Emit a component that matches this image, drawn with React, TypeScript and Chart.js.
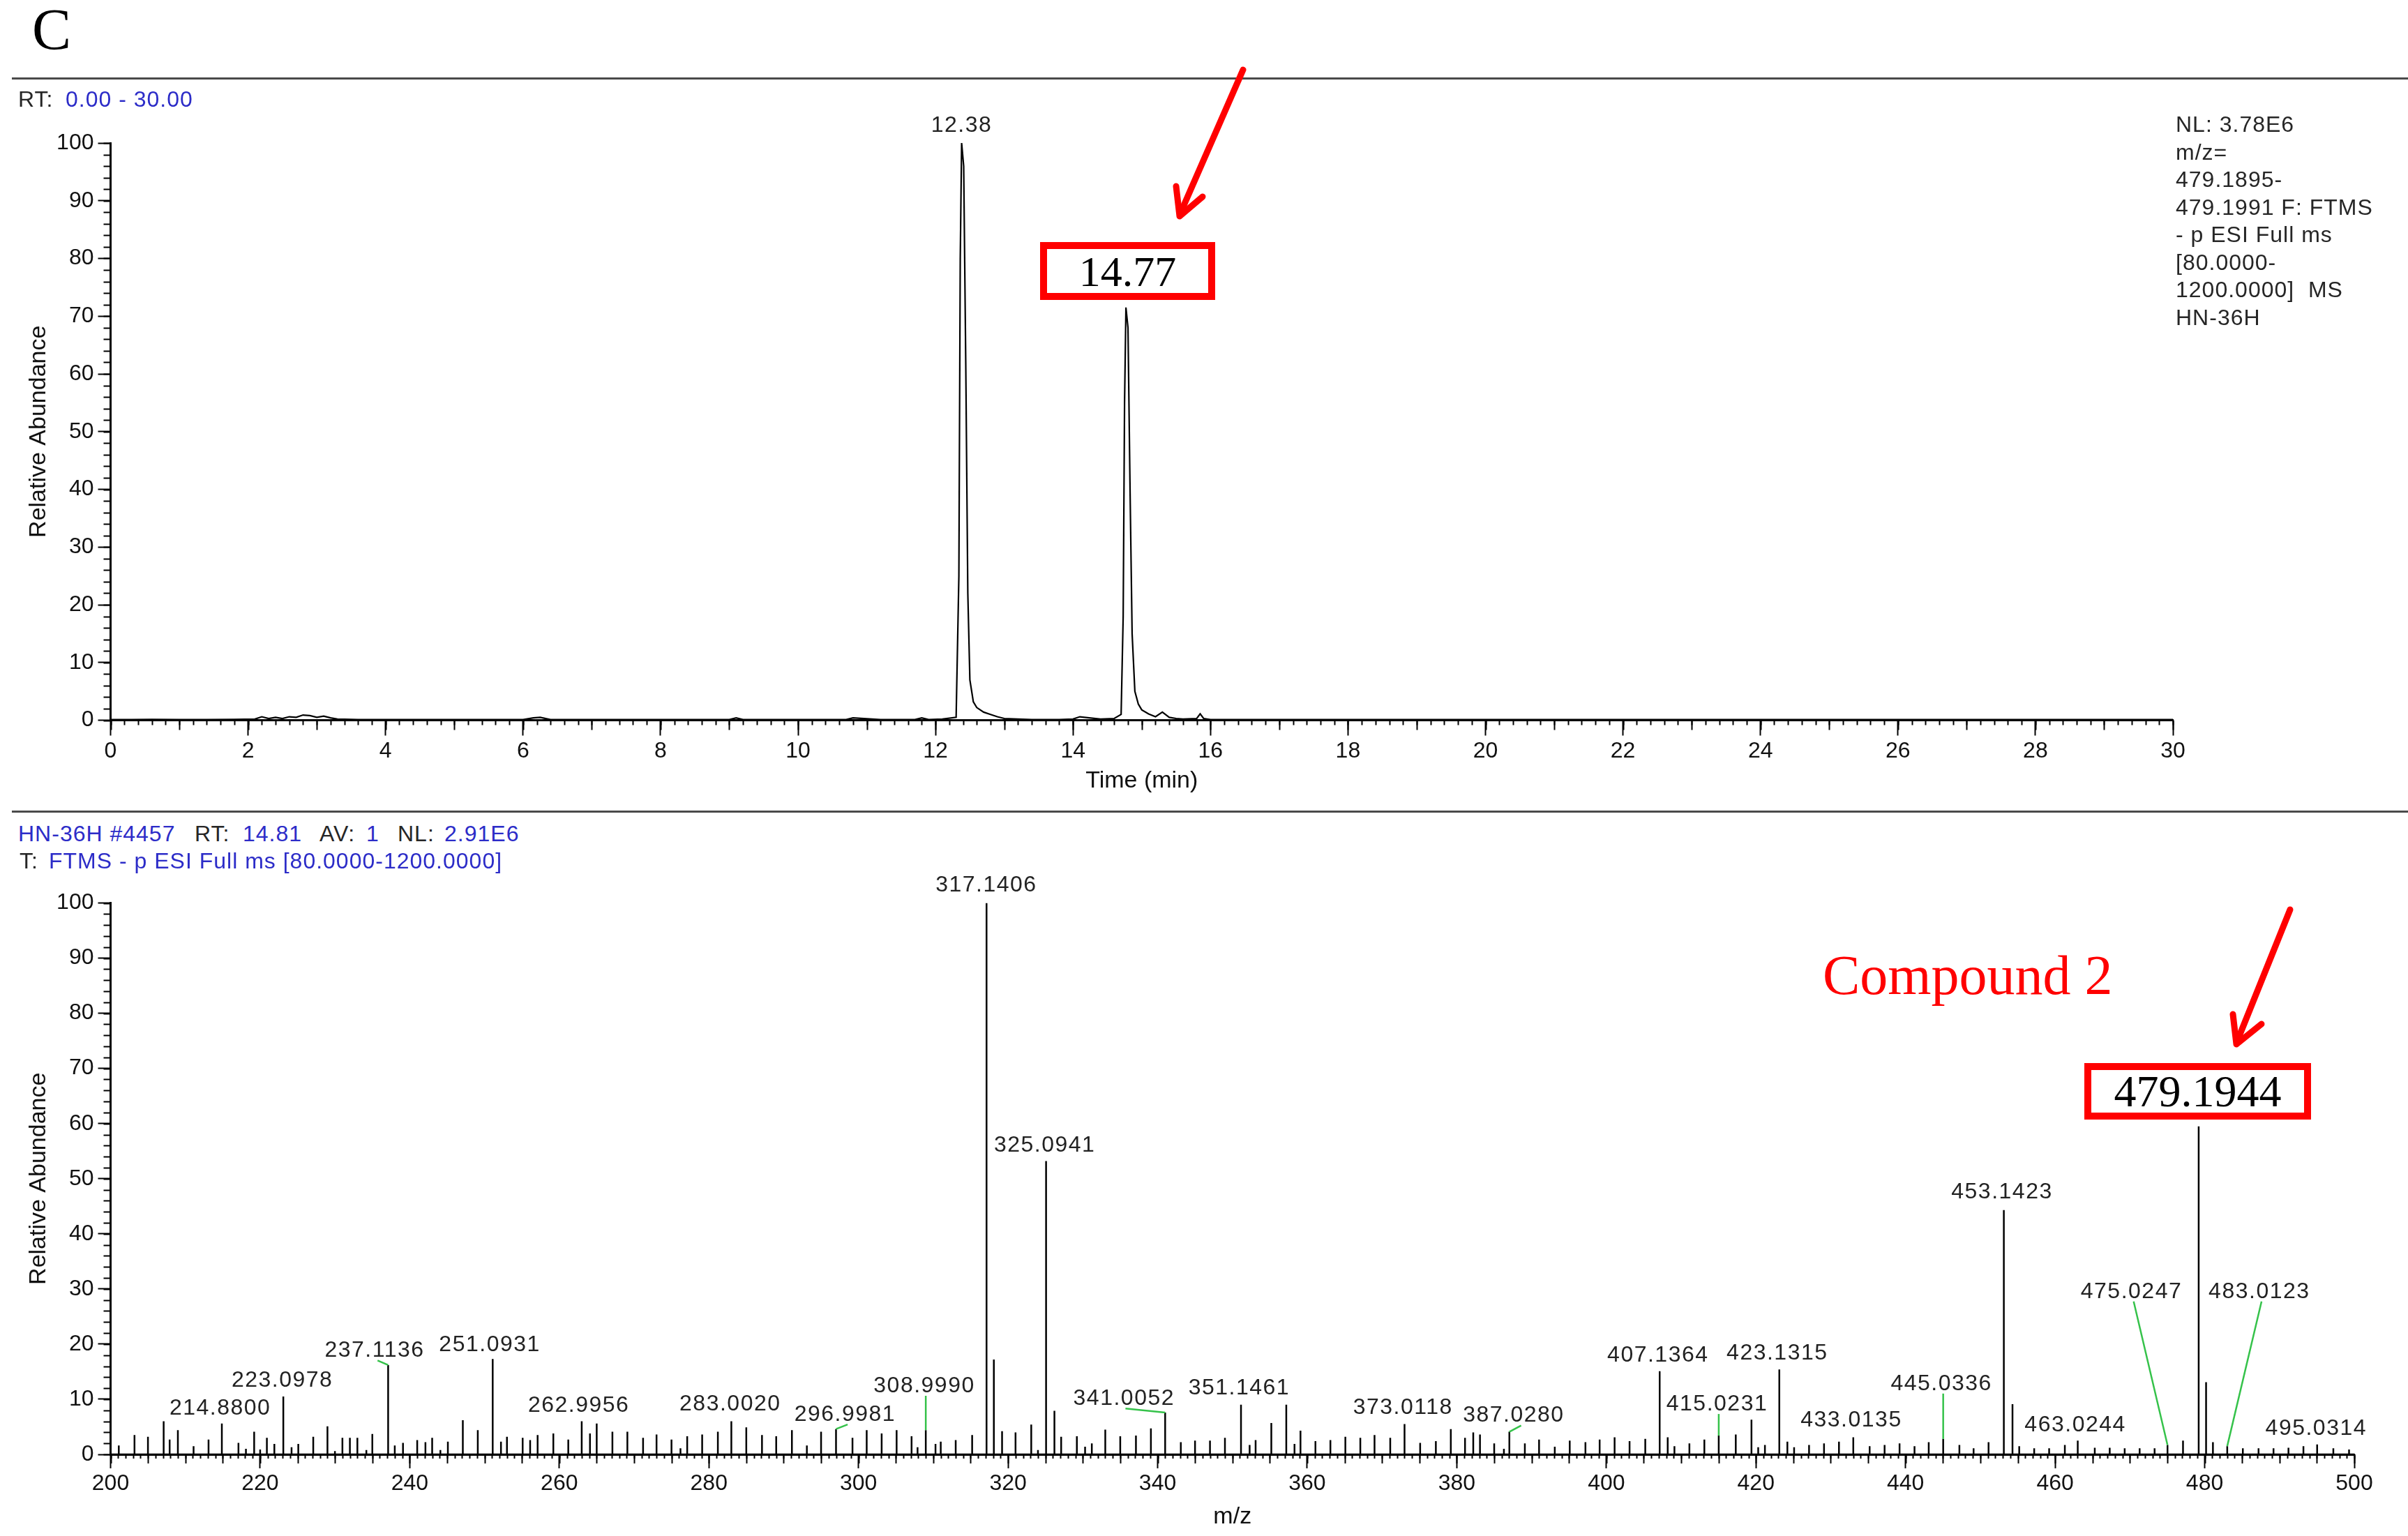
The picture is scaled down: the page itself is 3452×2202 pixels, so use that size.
import React, { useEffect, useRef } from 'react';
import { Chart, registerables } from 'chart.js';

Chart.register(...registerables);

// ---------------- DATA ----------------
// Chromatogram (top): retention time (min) and relative abundance (%)
const rtTime = [0, 0.3, 0.6, 1.0, 1.4, 1.8, 2.1, 2.2, 2.3, 2.4, 2.5, 2.6, 2.7, 2.8, 2.9, 3.0, 3.1, 3.2, 3.3, 3.6, 4.0, 4.5, 5.0, 5.5, 6.0, 6.15, 6.25, 6.4, 7.0, 7.5, 8.0, 8.5, 9.0, 9.1, 9.2, 9.6, 10.0, 10.5, 10.7, 10.8, 11.2, 11.7, 11.8, 11.9, 12.1, 12.3, 12.34, 12.36, 12.38, 12.41, 12.44, 12.47, 12.5, 12.55, 12.6, 12.7, 12.8, 12.9, 13.0, 13.4, 13.8, 14.0, 14.1, 14.4, 14.6, 14.7, 14.73, 14.75, 14.77, 14.8, 14.83, 14.86, 14.9, 14.95, 15.0, 15.1, 15.2, 15.3, 15.4, 15.5, 15.6, 15.8, 15.85, 15.9, 16.0, 16.5, 17, 18, 19, 20, 21, 22, 23, 24, 25, 26, 27, 28, 29, 30];
const rtAbund = [0.1, 0.1, 0.15, 0.1, 0.1, 0.15, 0.2, 0.6, 0.3, 0.5, 0.3, 0.6, 0.5, 0.9, 0.8, 0.5, 0.7, 0.4, 0.2, 0.1, 0.1, 0.1, 0.1, 0.1, 0.1, 0.4, 0.5, 0.1, 0.1, 0.1, 0.1, 0.1, 0.1, 0.4, 0.1, 0.1, 0.1, 0.1, 0.1, 0.4, 0.1, 0.1, 0.4, 0.1, 0.2, 0.5, 25, 80, 100, 96, 62, 22, 7, 3.2, 2.2, 1.4, 1.0, 0.6, 0.3, 0.1, 0.1, 0.2, 0.6, 0.2, 0.3, 1.0, 18, 55, 71.5, 68, 40, 15, 5, 2.8, 1.8, 1.1, 0.6, 1.4, 0.5, 0.3, 0.2, 0.3, 1.1, 0.3, 0.1, 0.1, 0.1, 0.1, 0.1, 0.1, 0.1, 0.1, 0.1, 0.1, 0.1, 0.1, 0.1, 0.1, 0.1, 0.1];
const rtPeakLabels = ['12.38'];
const rtPeakLabelTime = [12.38];
const rtPeakLabelLevel = [103.0];

// Mass spectrum (bottom): m/z and relative abundance (%)
const specMz = [201.1, 203.2, 205.0, 207.1, 207.9, 209.0, 211.1, 213.1, 214.88, 217.1, 218.1, 219.2, 220.0, 220.9, 221.9, 223.0978, 224.2, 225.1, 227.1, 229.0, 230.0, 231.0, 232.0, 233.0, 234.2, 235.0, 237.1136, 238.0, 239.1, 241.0, 242.1, 243.0, 244.1, 245.1, 247.1, 249.1, 251.0931, 252.2, 253.0, 255.1, 256.1, 257.1, 259.2, 261.2, 262.9956, 264.1, 265.0, 267.1, 269.1, 271.2, 273.0, 275.0, 276.2, 277.1, 279.1, 281.2, 283.002, 285.0, 287.1, 289.0, 291.1, 293.1, 295.0, 296.9981, 299.2, 301.1, 303.1, 305.1, 307.1, 307.9, 308.999, 310.3, 311.0, 313.0, 315.2, 317.1, 317.1406, 318.1, 319.2, 321.0, 323.1, 324.0, 325.07, 325.0941, 326.2, 327.1, 329.2, 330.3, 331.2, 333.0, 335.0, 337.1, 339.1, 341.0052, 343.1, 345.0, 347.0, 349.0, 351.1461, 352.3, 353.1, 355.2, 357.2, 358.3, 359.1, 361.1, 363.1, 365.1, 367.1, 369.0, 371.1, 373.0118, 375.1, 377.2, 379.2, 381.1, 382.2, 383.1, 385.0, 386.3, 387.028, 389.1, 391.0, 393.1, 395.1, 397.2, 399.1, 401.1, 403.1, 405.2, 407.11, 407.1364, 408.2, 409.1, 411.1, 413.1, 415.0231, 417.3, 419.4, 420.3, 421.2, 423.11, 423.1315, 424.2, 425.1, 427.1, 429.1, 431.1, 433.0135, 435.2, 437.2, 439.2, 441.2, 443.1, 445.0336, 447.2, 449.1, 451.1, 453.1423, 454.3, 455.2, 457.2, 459.2, 461.3, 463.0244, 465.3, 467.3, 469.3, 471.3, 473.3, 475.0247, 477.1, 479.1944, 480.16, 480.2, 481.1, 483.0123, 485.1, 487.2, 489.2, 491.2, 493.2, 495.0314, 497.2, 499.3];
const specInt = [1.6, 3.5, 3.2, 6.0, 2.7, 4.4, 1.5, 2.7, 5.6, 2.1, 1.0, 4.1, 0.9, 3.0, 1.9, 10.5, 1.3, 1.9, 3.2, 5.1, 0.6, 3.0, 3.0, 3.0, 0.8, 3.7, 16.2, 1.6, 2.1, 2.6, 2.2, 3.0, 0.8, 2.3, 6.2, 4.4, 17.3, 2.3, 3.2, 3.0, 2.6, 3.5, 3.8, 2.7, 6.0, 3.8, 5.6, 4.1, 4.1, 3.0, 3.6, 2.7, 1.1, 3.3, 3.6, 4.1, 6.0, 4.9, 3.5, 3.3, 4.4, 1.6, 4.1, 4.6, 3.0, 4.4, 3.8, 4.4, 3.3, 1.3, 4.4, 1.9, 2.3, 2.6, 3.5, 50.5, 100, 17.2, 4.2, 4.0, 5.4, 0.8, 49.4, 53.2, 7.9, 3.2, 3.3, 1.4, 2.0, 4.5, 3.3, 3.4, 4.7, 7.6, 2.2, 2.5, 2.5, 3.0, 9.0, 1.7, 2.6, 5.7, 9.0, 1.9, 4.3, 2.4, 2.6, 3.2, 3.0, 3.5, 3.0, 5.5, 2.1, 2.4, 4.6, 3.0, 4.0, 3.6, 2.0, 1.0, 4.1, 2.0, 2.7, 1.4, 2.5, 2.2, 2.7, 3.1, 2.4, 2.8, 4.9, 15.1, 3.1, 1.5, 2.0, 2.7, 3.4, 3.6, 6.3, 1.3, 1.7, 4.2, 15.4, 2.3, 1.3, 1.7, 2.0, 2.3, 3.1, 1.5, 1.7, 2.0, 1.5, 2.2, 2.8, 1.7, 1.1, 2.2, 44.3, 9.1, 1.5, 1.1, 1.1, 1.7, 2.5, 1.2, 1.2, 1.1, 1.1, 1.1, 1.7, 2.5, 59.5, 8.7, 13.1, 2.2, 1.5, 1.1, 1.1, 1.1, 1.2, 1.5, 1.8, 1.1, 0.9];

// Labelled spectrum peaks
const labelMz = [214.8800, 223.0978, 237.1136, 251.0931, 262.9956, 283.0020, 296.9981, 308.9990, 317.1406, 325.0941, 341.0052, 351.1461, 373.0118, 387.0280, 407.1364, 415.0231, 423.1315, 433.0135, 445.0336, 453.1423, 463.0244, 475.0247, 483.0123, 495.0314];
const labelAtMz = [214.66, 222.96, 235.3, 250.7, 262.6, 282.85, 298.2, 308.8, 317.09, 324.9, 335.5, 350.9, 372.8, 387.6, 406.9, 414.8, 422.85, 432.75, 444.8, 452.9, 462.7, 470.2, 487.3, 494.9];
const labelAtLevel = [8.35, 13.4, 18.8, 19.9, 8.8, 9.1, 7.2, 12.4, 103.2, 56.0, 10.1, 12.0, 8.5, 7.0, 18.0, 9.1, 18.3, 6.2, 12.8, 47.5, 5.3, 29.5, 29.5, 4.7];
const leaderFromMz = [null, null, 235.7, null, null, null, 298.55, 308.999, null, null, 335.7, null, null, 388.6, null, 415.0231, null, null, 445.0336, null, null, 470.5, 487.6, null];

const noteLines = ['NL: 3.78E6', 'm/z=', '479.1895-', '479.1991 F: FTMS', '- p ESI Full ms', '[80.0000-', '1200.0000]  MS', 'HN-36H'];

// ---------------- STYLE CONSTANTS ----------------
const SANS = '"Liberation Sans", Arial, sans-serif';
const SERIF = '"Liberation Serif", "Times New Roman", serif';
const BLUE = '#2c2cc8';
const DARK = '#262626';

// ---------------- PLUGINS ----------------
const minorTickPlugin = {
  id: 'minorTicks',
  afterDraw(chart: any, _args: any, opts: any) {
    const { ctx, chartArea } = chart;
    ctx.save();
    ctx.strokeStyle = '#000';
    ctx.lineWidth = 2;
    const xs = chart.scales.x;
    const ys = chart.scales.y;
    (opts.x || []).forEach((t: any) => {
      const n = Math.round((xs.max - xs.min) / t.step);
      for (let i = 0; i <= n; i++) {
        const px = Math.round(xs.getPixelForValue(xs.min + i * t.step)) + 0.5;
        ctx.beginPath();
        ctx.moveTo(px, chartArea.bottom);
        ctx.lineTo(px, chartArea.bottom + t.len);
        ctx.stroke();
      }
    });
    (opts.y || []).forEach((t: any) => {
      const n = Math.round((ys.max - ys.min) / t.step);
      for (let i = 0; i <= n; i++) {
        const py = Math.round(ys.getPixelForValue(ys.min + i * t.step)) + 0.5;
        ctx.beginPath();
        ctx.moveTo(chartArea.left, py);
        ctx.lineTo(chartArea.left - t.len, py);
        ctx.stroke();
      }
    });
    ctx.restore();
  },
};

const peakLabelPlugin = {
  id: 'peakLabels',
  afterDatasetsDraw(chart: any, _args: any, opts: any) {
    const items = opts.items || [];
    const { ctx } = chart;
    const xs = chart.scales.x;
    const ys = chart.scales.y;
    ctx.save();
    ctx.font = opts.font;
    ctx.textAlign = 'center';
    ctx.textBaseline = 'middle';
    try { (ctx as any).letterSpacing = opts.letterSpacing || '0px'; } catch (e) { /* ignore */ }
    for (const it of items) {
      const lx = xs.getPixelForValue(it.lx);
      const ly = ys.getPixelForValue(it.ly);
      if (it.leadX != null) {
        ctx.strokeStyle = opts.leaderColor;
        ctx.lineWidth = 2.5;
        ctx.beginPath();
        ctx.moveTo(xs.getPixelForValue(it.leadX), ly + opts.leaderGap);
        ctx.lineTo(xs.getPixelForValue(it.px), ys.getPixelForValue(it.py));
        ctx.stroke();
      }
      ctx.fillStyle = opts.color;
      ctx.fillText(it.text, lx, ly);
    }
    ctx.restore();
  },
};

// ---------------- CHART BUILDERS ----------------
function axisCommon(tickLen: number, pad: number) {
  return {
    border: { display: true, color: '#000', width: 3 },
    grid: { display: true, drawOnChartArea: false, drawTicks: true, tickLength: tickLen, tickWidth: 2, tickColor: '#000', color: '#000' },
    ticks: { color: '#111', padding: pad, autoSkip: false, maxRotation: 0, font: { family: SANS, size: 32 } },
  };
}

function buildTopConfig() {
  const pts = rtTime.map((t, i) => ({ x: t, y: rtAbund[i] }));
  const labels = rtPeakLabels.map((txt, i) => {
    const idx = rtTime.indexOf(rtPeakLabelTime[i]);
    return { text: txt, lx: rtPeakLabelTime[i], ly: rtPeakLabelLevel[i], px: rtPeakLabelTime[i], py: rtAbund[idx], leadX: null };
  });
  const xc = axisCommon(22, 3);
  const yc = axisCommon(18, 6);
  return {
    type: 'line',
    data: { datasets: [{ data: pts, borderColor: '#000', borderWidth: 2.2, pointRadius: 0, tension: 0, fill: false }] },
    options: {
      animation: false,
      responsive: false,
      maintainAspectRatio: false,
      events: [],
      layout: { padding: { left: 0, right: 337, top: 55, bottom: 7.5 } },
      plugins: {
        legend: { display: false },
        tooltip: { enabled: false },
        minorTicks: { x: [{ step: 1, len: 14 }, { step: 0.2, len: 7 }], y: [{ step: 2, len: 10 }] },
        peakLabels: { items: labels, font: `32px ${SANS}`, color: '#222', letterSpacing: '1.5px', leaderColor: '#35c24a', leaderGap: 14 },
      },
      scales: {
        x: {
          type: 'linear', min: 0, max: 30,
          ...xc,
          ticks: { ...xc.ticks, stepSize: 2 },
          title: { display: true, text: 'Time (min)', color: '#111', font: { family: SANS, size: 34 }, padding: { top: 0, bottom: 12 } },
          afterFit: (s: any) => { s.height = 120; },
        },
        y: {
          type: 'linear', min: 0, max: 100,
          ...yc,
          ticks: { ...yc.ticks, stepSize: 10 },
          title: { display: true, text: 'Relative Abundance', color: '#111', font: { family: SANS, size: 34 }, padding: { top: 35, bottom: 0 } },
          afterFit: (s: any) => { s.width = 158.5; },
        },
      },
    },
    plugins: [minorTickPlugin, peakLabelPlugin],
  };
}

function buildBottomConfig() {
  const pts: any[] = [{ x: 200, y: 0 }];
  specMz.forEach((m, i) => {
    pts.push({ x: m, y: 0 }, { x: m, y: specInt[i] }, { x: m, y: 0 });
  });
  pts.push({ x: 500, y: 0 });
  const labels = labelMz.map((m, i) => {
    const idx = specMz.indexOf(Number(m.toFixed(4)));
    const h = idx >= 0 ? specInt[idx] : 0;
    return { text: m.toFixed(4), lx: labelAtMz[i], ly: labelAtLevel[i], px: m, py: h, leadX: leaderFromMz[i] };
  });
  const xc = axisCommon(20, 3);
  const yc = axisCommon(18, 6);
  return {
    type: 'line',
    data: { datasets: [{ data: pts, borderColor: '#000', borderWidth: 2.5, pointRadius: 0, tension: 0, fill: false }] },
    options: {
      animation: false,
      responsive: false,
      maintainAspectRatio: false,
      events: [],
      layout: { padding: { left: 0, right: 77, top: 44.5, bottom: 4 } },
      plugins: {
        legend: { display: false },
        tooltip: { enabled: false },
        minorTicks: { x: [{ step: 5, len: 13 }, { step: 1, len: 6 }], y: [{ step: 2, len: 10 }] },
        peakLabels: { items: labels, font: `32px ${SANS}`, color: '#222', letterSpacing: '1.5px', leaderColor: '#35c24a', leaderGap: 14 },
      },
      scales: {
        x: {
          type: 'linear', min: 200, max: 500,
          ...xc,
          ticks: { ...xc.ticks, stepSize: 20 },
          title: { display: true, text: 'm/z', color: '#111', font: { family: SANS, size: 34 }, padding: { top: 0, bottom: 2.6 } },
          afterFit: (s: any) => { s.height = 113; },
        },
        y: {
          type: 'linear', min: 0, max: 100,
          ...yc,
          ticks: { ...yc.ticks, stepSize: 10 },
          title: { display: true, text: 'Relative Abundance', color: '#111', font: { family: SANS, size: 34 }, padding: { top: 35, bottom: 0 } },
          afterFit: (s: any) => { s.width = 158.5; },
        },
      },
    },
    plugins: [minorTickPlugin, peakLabelPlugin],
  };
}

function ChartCanvas({ build, top, height }: { build: () => any; top: number; height: number }) {
  const ref = useRef<HTMLCanvasElement | null>(null);
  useEffect(() => {
    if (!ref.current) return;
    const chart = new Chart(ref.current, build());
    return () => chart.destroy();
  }, []);
  return (
    <canvas
      ref={ref}
      width={3452}
      height={height}
      style={{ position: 'absolute', left: 0, top, width: 3452, height, display: 'block' }}
    />
  );
}

function Txt({ x, cy, size, color, children, family, spacing }: any) {
  return (
    <div
      style={{
        position: 'absolute', left: x, top: cy - size / 2, fontSize: size, lineHeight: `${size}px`,
        color, fontFamily: family || SANS, whiteSpace: 'pre', letterSpacing: spacing ?? 1,
      }}
    >
      {children}
    </div>
  );
}

function RedBox({ left, top, width, height, text, size }: any) {
  return (
    <div
      style={{
        position: 'absolute', left, top, width, height, boxSizing: 'border-box', border: '10px solid #ff0000',
        background: '#fff', display: 'flex', alignItems: 'center', justifyContent: 'center',
        fontFamily: SERIF, fontSize: size, color: '#000', lineHeight: 1,
      }}
    >
      {text}
    </div>
  );
}

export default function App() {
  return (
    <div style={{ position: 'absolute', left: 0, top: 0, width: 3452, height: 2202, background: '#fff', overflow: 'hidden' }}>
      <ChartCanvas build={buildTopConfig} top={150} height={1010} />
      <ChartCanvas build={buildBottomConfig} top={1250} height={952} />

      {/* Panel letter */}
      <div style={{ position: 'absolute', left: 46, top: 1, fontFamily: SERIF, fontSize: 84, lineHeight: '84px', color: '#000' }}>C</div>

      {/* separators */}
      <div style={{ position: 'absolute', left: 17, top: 111, width: 3435, height: 3, background: '#4a4a4a' }} />
      <div style={{ position: 'absolute', left: 17, top: 1162, width: 3435, height: 3, background: '#4a4a4a' }} />

      {/* top header */}
      <Txt x={26} cy={142} size={32} color={DARK}>RT:</Txt>
      <Txt x={94} cy={142} size={32} color={BLUE}>0.00 - 30.00</Txt>

      {/* top right note */}
      {noteLines.map((l, i) => (
        <Txt key={i} x={3119} cy={178 + i * 39.5} size={32} color={DARK}>{l}</Txt>
      ))}

      {/* bottom header */}
      <Txt x={26} cy={1195} size={32} color={BLUE}>HN-36H #4457</Txt>
      <Txt x={279} cy={1195} size={32} color={DARK}>RT:</Txt>
      <Txt x={348} cy={1195} size={32} color={BLUE}>14.81</Txt>
      <Txt x={458} cy={1195} size={32} color={DARK}>AV:</Txt>
      <Txt x={525} cy={1195} size={32} color={BLUE}>1</Txt>
      <Txt x={570} cy={1195} size={32} color={DARK}>NL:</Txt>
      <Txt x={637} cy={1195} size={32} color={BLUE}>2.91E6</Txt>
      <Txt x={28} cy={1234} size={32} color={DARK}>T:</Txt>
      <Txt x={70} cy={1234} size={32} color={BLUE}>FTMS - p ESI Full ms [80.0000-1200.0000]</Txt>

      {/* red annotations */}
      <RedBox left={1491} top={347} width={251} height={83} text="14.77" size={62} />
      <RedBox left={2988} top={1524} width={325} height={81} text="479.1944" size={64} />
      <div style={{ position: 'absolute', left: 2613, top: 1358, fontFamily: SERIF, fontSize: 80, lineHeight: '80px', color: '#ff0000', whiteSpace: 'pre' }}>Compound 2</div>

      <svg width={3452} height={2202} style={{ position: 'absolute', left: 0, top: 0, pointerEvents: 'none' }}>
        <g stroke="#ff0000" strokeWidth={9} strokeLinecap="round" strokeLinejoin="round" fill="none">
          <line x1={1782} y1={100} x2={1692} y2={306} />
          <polyline points="1686,267 1691,310 1724,282" />
          <line x1={3283} y1={1304} x2={3207} y2={1493} />
          <polyline points="3201,1454 3206,1497 3242,1468" />
        </g>
      </svg>
    </div>
  );
}
